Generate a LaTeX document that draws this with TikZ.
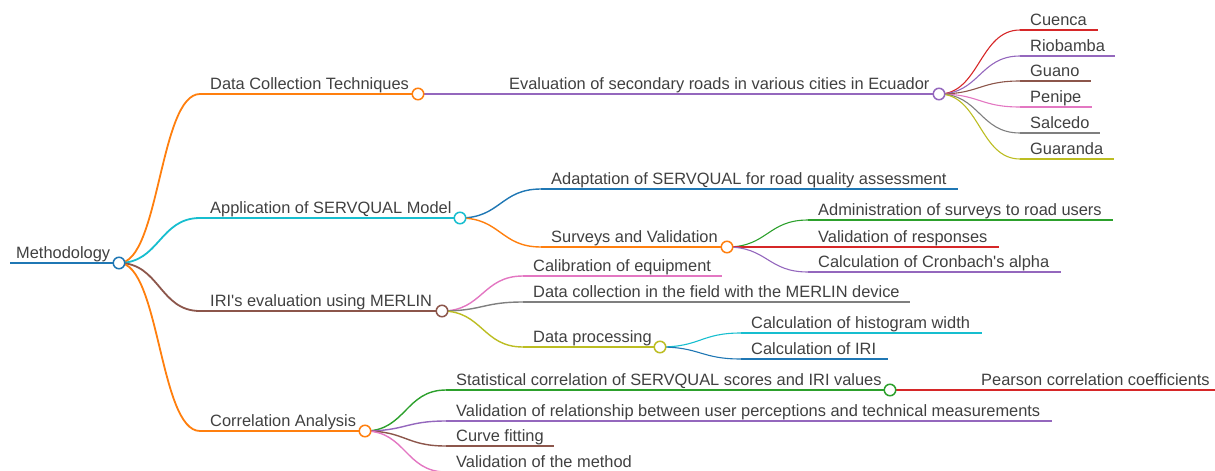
\documentclass[tikz,border=0pt]{standalone}
\usepackage{fontspec}
\setmainfont{Liberation Sans}[Ligatures=TeXOff]
\usetikzlibrary{calc}

\definecolor{cblue}{HTML}{1F77B4}
\definecolor{corange}{HTML}{FF7F0E}
\definecolor{cgreen}{HTML}{2CA02C}
\definecolor{cred}{HTML}{D62728}
\definecolor{cpurple}{HTML}{9467BD}
\definecolor{cbrown}{HTML}{8C564B}
\definecolor{cpink}{HTML}{E377C2}
\definecolor{cgray}{HTML}{7F7F7F}
\definecolor{colive}{HTML}{BCBD22}
\definecolor{ccyan}{HTML}{17BECF}
\definecolor{txt}{HTML}{404040}

\tikzset{
  lbl/.style={anchor=base west, inner sep=0pt, text=txt, font=\fontsize{16.4}{19}\selectfont},
  dot/.style={circle, draw=#1, fill=white, line width=1.5pt, minimum size=11.5pt, inner sep=0pt},
  d0/.style={line width=2.2pt},
  d1/.style={line width=1.8pt},
  d2/.style={line width=1.4pt},
  d3/.style={line width=1.1pt},
}

% name, x start, y, x end, colour, depth style, text
\newcommand\mmnode[7]{%
  \coordinate (#1-s) at (#2,#3);
  \coordinate (#1-e) at (#4,#3);
  \draw[#5,#6] (#1-s) -- (#1-e);
  \node[lbl] (#1) at ($(#1-s)+(10,-5)$) {#7};
}
% parent, child, colour, depth style
\newcommand\mmlink[4]{%
  \path ($(#1-e)!.5!(#2-s)$) coordinate (mid);
  \draw[#3,#4] (#1-e) .. controls (mid |- #1-e) and (mid |- #2-s) .. (#2-s);
}

\begin{document}
\begin{tikzpicture}[x=1pt,y=-1pt]
\useasboundingbox (0,0) rectangle (1215,471);

% root
\coordinate (root-s) at (10,263);
\coordinate (root-e) at (119,263);
\draw[cblue,d0] (root-s) -- (root-e);
\node[lbl] (root) at (16,258) {Methodology};

% first level
\mmnode{dct}{200}{94}{418}{corange}{d1}{Data Collection Techniques}
\mmnode{app}{200}{218}{460}{ccyan}{d1}{Application of SERVQUAL Model}
\mmnode{iri}{200}{311}{442}{cbrown}{d1}{IRI's evaluation using MERLIN}
\mmnode{cor}{200}{431}{365}{corange}{d1}{Correlation Analysis}
\mmlink{root}{dct}{corange}{d1}
\mmlink{root}{app}{ccyan}{d1}
\mmlink{root}{iri}{cbrown}{d1}
\mmlink{root}{cor}{corange}{d1}

% second level
\mmnode{eva}{499}{94}{939}{cpurple}{d2}{Evaluation of secondary roads in various cities in Ecuador}
\draw[cpurple,d2] (dct-e) -- (eva-s);

\mmnode{ada}{541}{189}{958}{cblue}{d2}{Adaptation of SERVQUAL for road quality assessment}
\mmnode{sur}{541}{247}{727}{corange}{d2}{Surveys and Validation}
\mmlink{app}{ada}{cblue}{d2}
\mmlink{app}{sur}{corange}{d2}

\mmnode{cal}{523}{276}{722}{cpink}{d2}{Calibration of equipment}
\mmnode{dat}{523}{302}{910}{cgray}{d2}{Data collection in the field with the MERLIN device}
\mmnode{pro}{523}{347}{660}{colive}{d2}{Data processing}
\mmlink{iri}{cal}{cpink}{d2}
\mmlink{iri}{dat}{cgray}{d2}
\mmlink{iri}{pro}{colive}{d2}

\mmnode{sta}{446}{390}{890}{cgreen}{d2}{Statistical correlation of SERVQUAL scores and IRI values}
\mmnode{vre}{446}{421}{1052}{cpurple}{d2}{Validation of relationship between user perceptions and technical measurements}
\mmnode{cur}{446}{446}{554}{cbrown}{d2}{Curve fitting}
\mmnode{vme}{446}{472}{643}{cpink}{d2}{Validation of the method}
\mmlink{cor}{sta}{cgreen}{d2}
\mmlink{cor}{vre}{cpurple}{d2}
\mmlink{cor}{cur}{cbrown}{d2}
\mmlink{cor}{vme}{cpink}{d2}

% third level: cities
\mmnode{cue}{1020}{30}{1098}{cred}{d3}{Cuenca}
\mmnode{rio}{1020}{56}{1115}{cpurple}{d3}{Riobamba}
\mmnode{gua}{1020}{81}{1091}{cbrown}{d3}{Guano}
\mmnode{pen}{1020}{107}{1092}{cpink}{d3}{Penipe}
\mmnode{sal}{1020}{133}{1100}{cgray}{d3}{Salcedo}
\mmnode{gda}{1020}{159}{1114}{colive}{d3}{Guaranda}
\mmlink{eva}{cue}{cred}{d3}
\mmlink{eva}{rio}{cpurple}{d3}
\mmlink{eva}{gua}{cbrown}{d3}
\mmlink{eva}{pen}{cpink}{d3}
\mmlink{eva}{sal}{cgray}{d3}
\mmlink{eva}{gda}{colive}{d3}

% third level: surveys
\mmnode{adm}{808}{220}{1113}{cgreen}{d3}{Administration of surveys to road users}
\mmnode{vrs}{808}{247}{999}{cred}{d3}{Validation of responses}
\mmnode{cro}{808}{272}{1061}{cpurple}{d3}{Calculation of Cronbach's alpha}
\mmlink{sur}{adm}{cgreen}{d3}
\mmlink{sur}{vrs}{cred}{d3}
\mmlink{sur}{cro}{cpurple}{d3}

% third level: processing
\mmnode{his}{741}{333}{982}{ccyan}{d3}{Calculation of histogram width}
\mmnode{ciri}{741}{359}{888}{cblue}{d3}{Calculation of IRI}
\mmlink{pro}{his}{ccyan}{d3}
\mmlink{pro}{ciri}{cblue}{d3}

% third level: correlation
\mmnode{pea}{971}{390}{1230}{cred}{d3}{Pearson correlation coefficients}
\draw[cred,d3] (sta-e) -- (pea-s);

% node markers
\node[dot=cblue] (root-o) at (root-e) {};
\node[dot=corange] (dct-o) at (dct-e) {};
\node[dot=ccyan] (app-o) at (app-e) {};
\node[dot=cbrown] (iri-o) at (iri-e) {};
\node[dot=corange] (cor-o) at (cor-e) {};
\node[dot=cpurple] (eva-o) at (eva-e) {};
\node[dot=corange] (sur-o) at (sur-e) {};
\node[dot=colive] (pro-o) at (pro-e) {};
\node[dot=cgreen] (sta-o) at (sta-e) {};
\end{tikzpicture}
\end{document}
